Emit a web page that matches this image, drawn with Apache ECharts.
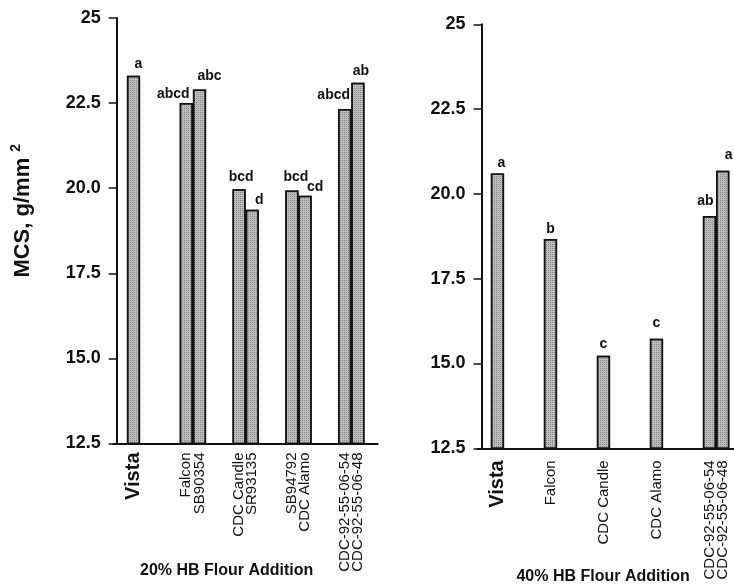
<!DOCTYPE html>
<html>
<head>
<meta charset="utf-8">
<script src="https://cdn.jsdelivr.net/npm/echarts@6/dist/echarts.min.js"></script>
<style>
  html, body { margin: 0; padding: 0; background: #fff; }
  #chart { width: 734px; height: 588px; }
</style>
</head>
<body>
<div id="chart"></div>
<script>
// Mixing-curve strength (MCS, g/mm²) of blended flours, two HB flour addition levels.
const cultivars20 = ['Vista', 'Falcon', 'SB90354', 'CDC Candle', 'SR93135', 'SB94792', 'CDC Alamo', 'CDC-92-55-06-54', 'CDC-92-55-06-48'];
const mcs20 = [23.3, 22.5, 22.9, 19.97, 19.37, 19.93, 19.78, 22.33, 23.1];
const letters20 = ['a', 'abcd', 'abc', 'bcd', 'd', 'bcd', 'cd', 'abcd', 'ab'];
const groups20 = [1, 2, 2, 2, 2];

const cultivars40 = ['Vista', 'Falcon', 'CDC Candle', 'CDC Alamo', 'CDC-92-55-06-54', 'CDC-92-55-06-48'];
const mcs40 = [20.6, 18.67, 15.23, 15.73, 19.35, 20.68];
const letters40 = ['a', 'b', 'c', 'c', 'ab', 'a'];
const groups40 = [1, 1, 1, 1, 2];

const yTicks = [12.5, 15, 17.5, 20, 22.5, 25];

// Small nudges of the significance letters, [dx, dy] in px
const letterNudge20 = {
  'Vista': [5, 0], 'Falcon': [-13, 3], 'SB90354': [10, -1], 'CDC Candle': [2, 0], 'SR93135': [7, 2],
  'SB94792': [4, -1], 'CDC Alamo': [10, 3], 'CDC-92-55-06-54': [-11, -2], 'CDC-92-55-06-48': [3, 0]
};
const letterNudge40 = {
  'Vista': [4, 2], 'Falcon': [0, 2], 'CDC Candle': [0, 0], 'CDC Alamo': [0, -4],
  'CDC-92-55-06-54': [-4, -3], 'CDC-92-55-06-48': [6, -4]
};

// Each group gets four slots (bars then spacing), with one empty slot at each end.
function buildSlots(names, values, letters, groups, nudge) {
  const cats = [''];
  const data = ['-'];
  let k = 0;
  groups.forEach(function (size) {
    for (let s = 0; s < 4; s++) {
      if (s < size) {
        const name = names[k];
        const off = nudge[name] || [0, 0];
        cats.push(name);
        data.push({
          value: values[k],
          label: { formatter: letters[k], offset: off }
        });
        k++;
      } else {
        cats.push('');
        data.push('-');
      }
    }
  });
  // drop the trailing spacing of the last group, keep one empty slot
  const used = 1 + (groups.length - 1) * 4 + groups[groups.length - 1];
  return { cats: cats.slice(0, used + 1), data: data.slice(0, used + 1) };
}

const left = buildSlots(cultivars20, mcs20, letters20, groups20, letterNudge20);
const right = buildSlots(cultivars40, mcs40, letters40, groups40, letterNudge40);

const FONT = 'Liberation Sans, Arial, Helvetica, sans-serif';

function yAxisFor(gridIndex, offset) {
  return {
    type: 'value', gridIndex: gridIndex,
    min: yTicks[0], max: yTicks[yTicks.length - 1], interval: 2.5,
    offset: offset,
    axisLine: { show: true, lineStyle: { color: '#111', width: 2 } },
    axisTick: { show: true, inside: false, length: 8, lineStyle: { color: '#111', width: 1.5 } },
    axisLabel: {
      margin: 16, color: '#111', fontFamily: FONT, fontSize: 18, fontWeight: 'bold',
      formatter: function (v) { return v === 25 ? '25' : v.toFixed(1); }
    },
    splitLine: { show: false }
  };
}

function xAxisFor(gridIndex, cats, title, labelMargin, titleGap, titlePad) {
  return {
    type: 'category', gridIndex: gridIndex, data: cats,
    axisLine: { show: true, lineStyle: { color: '#111', width: 2 } },
    axisTick: { show: false },
    axisLabel: {
      interval: 0, rotate: 90, margin: labelMargin, color: '#111',
      fontFamily: FONT, fontSize: 15,
      formatter: function (v) { return v === 'Vista' ? '{v|Vista}' : v; },
      rich: { v: { fontFamily: FONT, fontSize: 20, fontWeight: 'bold', color: '#111' } }
    },
    name: title, nameLocation: 'middle', nameGap: titleGap, nameMoveOverlap: false,
    nameTextStyle: { fontFamily: FONT, fontSize: 16, fontWeight: 'bold', color: '#111', padding: titlePad }
  };
}

const barStyle = {
  color: '#bcbcbc',
  borderColor: '#111',
  borderWidth: 1.5,
  decal: {
    symbol: 'rect', symbolSize: 1,
    dashArrayX: [1, 1], dashArrayY: [1, 1],
    color: 'rgba(60,60,60,0.4)', rotation: 0
  }
};

function barSeries(idx, data) {
  return {
    type: 'bar', xAxisIndex: idx, yAxisIndex: idx,
    data: data, barCategoryGap: '0%', barWidth: '100%',
    itemStyle: barStyle,
    label: {
      show: true, position: 'top', distance: 5,
      color: '#111', fontFamily: FONT, fontSize: 14, fontWeight: 'bold'
    },
    silent: true, animation: false
  };
}

const chart = echarts.init(document.getElementById('chart'), null, { renderer: 'canvas' });
chart.setOption({
  backgroundColor: '#fff',
  aria: { enabled: true, decal: { show: true } },
  grid: [
    { left: 113.7, top: 18, width: 13.2 * left.cats.length, height: 425.5, outerBoundsMode: 'none' },
    { left: 477.6, top: 24.3, width: 13.25 * right.cats.length, height: 424, outerBoundsMode: 'none' }
  ],
  xAxis: [
    xAxisFor(0, left.cats, '20% HB Flour Addition', 9, 119, [0, 38, 0, 0]),
    xAxisFor(1, right.cats, '40% HB Flour Addition', 12, 120, [0, 14, 0, 0])
  ],
  yAxis: [
    Object.assign(yAxisFor(0, -3), {
      name: '{m|MCS, g/mm }{s|2}', nameLocation: 'middle', nameRotate: 90, nameGap: 80,
      nameMoveOverlap: false,
      nameTextStyle: {
        padding: [0, 0, 0, 40],
        rich: {
          m: { fontFamily: FONT, fontSize: 22, fontWeight: 'bold', color: '#111', lineHeight: 28 },
          s: { fontFamily: FONT, fontSize: 14, fontWeight: 'bold', color: '#111', verticalAlign: 'top', lineHeight: 28 }
        }
      }
    }),
    yAxisFor(1, -4)
  ],
  series: [barSeries(0, left.data), barSeries(1, right.data)]
});
</script>
</body>
</html>
